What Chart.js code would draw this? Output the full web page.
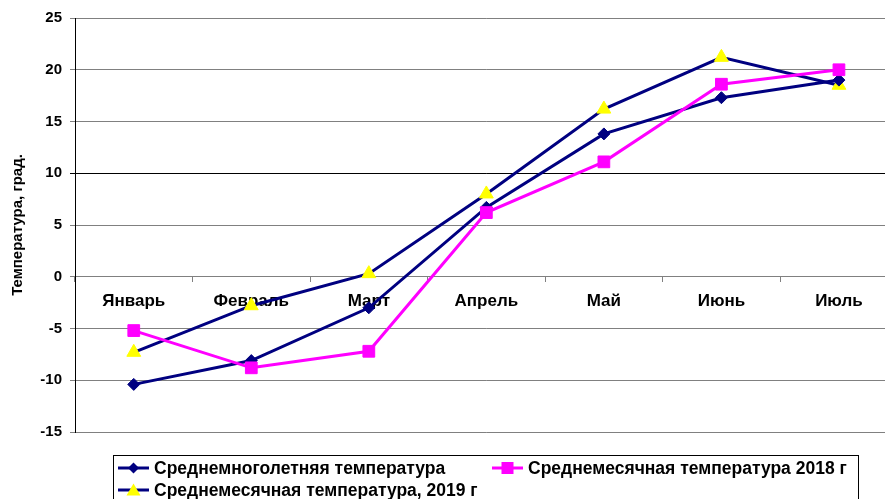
<!DOCTYPE html>
<html lang="ru">
<head>
<meta charset="utf-8">
<script src="https://cdn.jsdelivr.net/npm/chart.js@4/dist/chart.umd.min.js"></script>
<style>
  html, body { margin: 0; padding: 0; overflow: hidden; background: #fff; }
  #wrap { position: relative; width: 907px; height: 499px; }
  #legendBox { position: absolute; left: 113px; top: 455px; width: 746px; height: 52px;
    border: 1px solid #000; box-sizing: border-box; }
  .item { position: absolute; height: 18px; display: flex; align-items: center; white-space: nowrap;
    font: bold 17.5px "Liberation Sans", Arial, sans-serif; color: #000; }
  .item svg { display: block; }
</style>
</head>
<body>
<div id="wrap">
  <canvas id="miGrafico" width="907" height="499"></canvas>
  <div id="legendBox"></div>
</div>
<script>
const months = ['Январь', 'Февраль', 'Март', 'Апрель', 'Май', 'Июнь', 'Июль']
const longTerm = [-10.4, -8.1, -3.0, 6.7, 13.8, 17.3, 19.0]
const temp2018 = [-5.2, -8.8, -7.2, 6.2, 11.1, 18.6, 20.0]
const temp2019 = [-7.3, -2.8, 0.3, 8.0, 16.2, 21.2, 18.5]
const seriesNames = [
  'Среднемноголетняя температура',
  'Среднемесячная температура 2018 г',
  'Среднемесячная температура, 2019 г',
]
const yTicks = [25, 20, 15, 10, 5, 0, -5, -10, -15]
const yTitle = 'Температура, град.'

const navy = '#000080'
const magenta = '#FF00FF'
const yellow = '#FFFF00'
const fontFamily = '"Liberation Sans", Arial, sans-serif'

// легенда (HTML, с маркерами как в Excel)
const legendItems = [
  { left: 118, top: 459, line: navy, marker: '<polygon points="15.5,1.5 21,7 15.5,12.5 10,7" fill="' + navy + '"/>' },
  { left: 492, top: 459, line: magenta, marker: '<rect x="9.5" y="1" width="12" height="12" fill="' + magenta + '"/>' },
  { left: 118, top: 481, line: navy, marker: '<polygon points="15.5,0.5 22.5,12.5 8.5,12.5" fill="' + yellow + '"/>' },
]
const wrap = document.getElementById('wrap')
legendItems.forEach((it, i) => {
  const d = document.createElement('div')
  d.className = 'item'
  d.style.left = it.left + 'px'
  d.style.top = it.top + 'px'
  d.innerHTML =
    '<svg width="31" height="14" viewBox="0 0 31 14"><line x1="0" y1="7" x2="31" y2="7" stroke="' +
    it.line + '" stroke-width="3"/>' + it.marker + '</svg>' +
    '<span style="margin-left:5px">' + seriesNames[i] + '</span>'
  wrap.appendChild(d)
})

const ctx = document.getElementById('miGrafico').getContext('2d')
const myChart = new Chart(ctx, {
  type: 'line',
  data: {
    labels: months,
    datasets: [
      {
        label: seriesNames[0],
        data: longTerm,
        borderColor: navy,
        backgroundColor: navy,
        borderWidth: 3,
        pointStyle: 'rectRot',
        pointRadius: 6,
        pointBorderWidth: 1,
        order: 2,
      },
      {
        label: seriesNames[1],
        data: temp2018,
        borderColor: magenta,
        backgroundColor: magenta,
        borderWidth: 3,
        pointStyle: 'rect',
        pointRadius: 8.3,
        pointBorderWidth: 1,
        order: 1,
      },
      {
        label: seriesNames[2],
        data: temp2019,
        borderColor: navy,
        backgroundColor: yellow,
        pointBorderColor: yellow,
        borderWidth: 3,
        pointStyle: 'triangle',
        pointRadius: 8,
        pointBorderWidth: 1,
        order: 3,
      },
    ],
  },
  options: {
    responsive: false,
    animation: false,
    layout: { padding: { top: 18, bottom: 67, left: 0, right: 0 } },
    plugins: {
      legend: { display: false },
      tooltip: { enabled: false },
    },
    elements: { line: { tension: 0 } },
    scales: {
      x: {
        position: { y: 0 },
        offset: true,
        z: 1,
        afterFit: (s) => { s.height = 0 },
        grid: {
          offset: true,
          drawOnChartArea: false,
          drawTicks: true,
          tickLength: 5,
          color: '#808080',
        },
        border: { color: '#808080', width: 1 },
        ticks: {
          color: '#000',
          padding: 9,
          maxRotation: 0,
          font: { family: fontFamily, size: 17, weight: 'bold' },
        },
      },
      y: {
        min: -15,
        max: 25,
        afterBuildTicks: (s) => { s.ticks = yTicks.map((v) => ({ value: v })) },
        afterFit: (s) => { s.width = 75 },
        grid: {
          color: (c) => (c.tick && c.tick.value === 10 ? '#000' : '#808080'),
          tickLength: 5,
        },
        border: { color: '#000', width: 1 },
        ticks: {
          color: '#000',
          padding: 8,
          font: { family: fontFamily, size: 15, weight: 'bold' },
        },
        title: {
          display: true,
          text: yTitle,
          color: '#000',
          padding: { top: 9, bottom: 0 },
          font: { family: fontFamily, size: 15, weight: 'bold' },
        },
      },
    },
  },
})
</script>
</body>
</html>
